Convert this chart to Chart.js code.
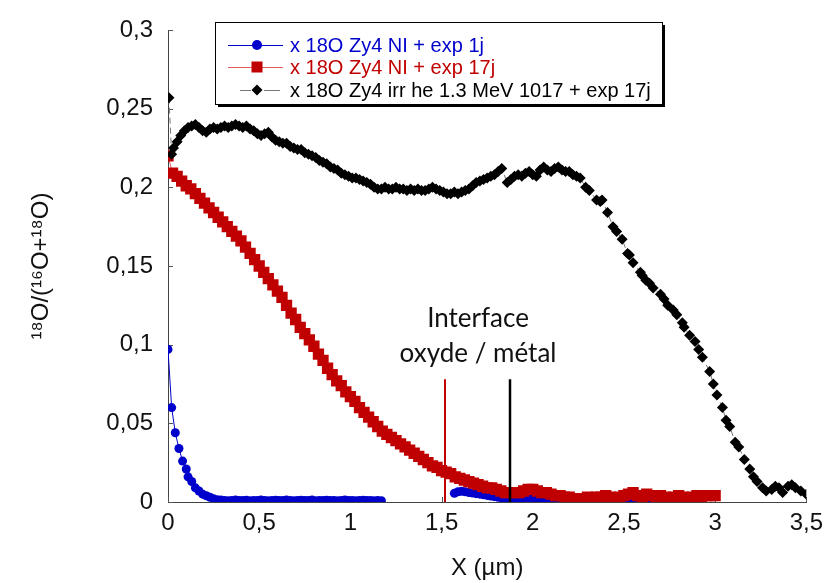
<!DOCTYPE html>
<html>
<head>
<meta charset="utf-8">
<script src="https://cdn.jsdelivr.net/npm/chart.js@4.4.0/dist/chart.umd.min.js"></script>
<style>
html, body { margin: 0; padding: 0; background: #fff; }
</style>
</head>
<body>
<canvas id="oxygen" width="830" height="583"></canvas>
<script>
// x 18O Zy4 NI + exp 1j (blue, gap between 1.17 and 1.57)
var blueX = [0, 0.02, 0.04, 0.06, 0.08, 0.1, 0.11, 0.13, 0.15, 0.17, 0.19, 0.21, 0.23, 0.25, 0.27,
  0.29, 0.31, 0.33, 0.35, 0.37, 0.39, 0.41, 0.43, 0.45, 0.47, 0.49, 0.51, 0.53, 0.55, 0.57,
  0.59, 0.61, 0.63, 0.65, 0.67, 0.69, 0.71, 0.73, 0.75, 0.77, 0.79, 0.81, 0.83, 0.85, 0.87,
  0.89, 0.91, 0.93, 0.95, 0.97, 0.99, 1.01, 1.03, 1.05, 1.07, 1.09, 1.11, 1.13, 1.15, 1.17,
  1.37,
  1.57, 1.59, 1.61, 1.63, 1.65, 1.67, 1.69, 1.71, 1.73, 1.75, 1.77, 1.79, 1.81, 1.83, 1.85,
  1.87, 1.89, 1.91, 1.93, 1.95, 1.97, 1.99, 2.01, 2.03, 2.05, 2.07, 2.09, 2.11, 2.13, 2.15,
  2.17, 2.19, 2.21, 2.23, 2.25, 2.27, 2.29, 2.31, 2.33, 2.35, 2.37, 2.39, 2.41, 2.43, 2.45,
  2.47, 2.49, 2.51, 2.53, 2.55, 2.57, 2.59, 2.61, 2.63, 2.65, 2.67, 2.69, 2.71, 2.73, 2.75,
  2.77, 2.79, 2.81, 2.83, 2.85, 2.87, 2.89];
var blueY = [0.097, 0.060, 0.044, 0.034, 0.026, 0.021, 0.016, 0.013, 0.009, 0.007, 0.005, 0.004, 0.003, 0.002, 0.0015,
  0.0012, 0.001, 0.0008, 0.001, 0.0012, 0.0009, 0.001, 0.0011, 0.0008, 0.0009, 0.001, 0.0012, 0.001, 0.0008, 0.0009,
  0.0011, 0.001, 0.0009, 0.0012, 0.001, 0.0008, 0.001, 0.0011, 0.0009, 0.001, 0.0012, 0.0008, 0.0009, 0.001, 0.0011,
  0.001, 0.0009, 0.0008, 0.001, 0.0012, 0.001, 0.0009, 0.0008, 0.001, 0.0011, 0.0009, 0.001, 0.0008, 0.0009, 0.0008,
  null,
  0.0055, 0.0065, 0.0068, 0.0065, 0.006, 0.0057, 0.0053, 0.005, 0.0046, 0.0042, 0.0038, 0.0034, 0.003, 0.0026, 0.0022,
  0.0018, 0.0015, 0.0012, 0.001, 0.0008, 0.0012, 0.0018, 0.0014, 0.001, 0.0006, 0.0004, 0.0003, 0.0002, 0.0001, 0.0002,
  0, -0.0002, 0.0001, 0, -0.0003, 0.0001, 0, -0.0002, 0.0002, 0, -0.0003, 0.0001, 0, -0.0002, 0.0001,
  0, -0.0003, 0.0001, 0, -0.0002, 0.0002, 0, -0.0003, 0.0001, 0, -0.0002, 0.0001, 0, -0.0003, 0.0001,
  0, -0.0002, 0.0001, 0, -0.0003, 0.0001, 0];

// x 18O Zy4 NI + exp 17j (red)
var redX = [0, 0.025, 0.05, 0.075, 0.1, 0.125, 0.15, 0.175, 0.2, 0.225, 0.25, 0.275, 0.3, 0.325, 0.35,
  0.375, 0.4, 0.425, 0.45, 0.475, 0.5, 0.525, 0.55, 0.575, 0.6, 0.625, 0.65, 0.675, 0.7, 0.725,
  0.75, 0.775, 0.8, 0.825, 0.85, 0.875, 0.9, 0.925, 0.95, 0.975, 1.0, 1.025, 1.05, 1.075, 1.1,
  1.125, 1.15, 1.175, 1.2, 1.225, 1.25, 1.275, 1.3, 1.325, 1.35, 1.375, 1.4, 1.425, 1.45, 1.475,
  1.5, 1.525, 1.55, 1.575, 1.6, 1.625, 1.65, 1.675, 1.7, 1.725, 1.75, 1.775, 1.8, 1.825, 1.85,
  1.875, 1.9, 1.925, 1.95, 1.975, 2.0, 2.025, 2.05, 2.075, 2.1, 2.125, 2.15, 2.175, 2.2, 2.225,
  2.25, 2.275, 2.3, 2.325, 2.35, 2.375, 2.4, 2.425, 2.45, 2.475, 2.5, 2.525, 2.55, 2.575, 2.6,
  2.625, 2.65, 2.675, 2.7, 2.725, 2.75, 2.775, 2.8, 2.825, 2.85, 2.875, 2.9, 2.925, 2.95, 2.975, 3.0];
var redY = [0.220, 0.209, 0.207, 0.204, 0.201, 0.199, 0.196, 0.193, 0.190, 0.187, 0.184, 0.181, 0.178, 0.175, 0.172,
  0.169, 0.166, 0.162, 0.158, 0.154, 0.150, 0.146, 0.142, 0.138, 0.134, 0.130, 0.125, 0.120, 0.116, 0.111,
  0.107, 0.103, 0.099, 0.094, 0.090, 0.085, 0.081, 0.077, 0.074, 0.070, 0.067, 0.064, 0.060, 0.057, 0.054,
  0.051, 0.048, 0.045, 0.043, 0.041, 0.039, 0.037, 0.035, 0.033, 0.031, 0.029, 0.027, 0.025, 0.023, 0.022,
  0.020, 0.019, 0.018, 0.016, 0.015, 0.014, 0.013, 0.012, 0.011, 0.010, 0.009, 0.009, 0.008, 0.007, 0.006,
  0.006, 0.006, 0.006, 0.007, 0.008, 0.008, 0.007, 0.006, 0.006, 0.005, 0.004, 0.004, 0.003, 0.003, 0.002,
  0.002, 0.002, 0.003, 0.002, 0.003, 0.003, 0.004, 0.003, 0.002, 0.003, 0.004, 0.005, 0.006, 0.004, 0.003,
  0.005, 0.004, 0.003, 0.004, 0.003, 0.002, 0.003, 0.004, 0.003, 0.002, 0.003, 0.004, 0.003, 0.004, 0.004, 0.004];

// x 18O Zy4 irr he 1.3 MeV 1017 + exp 17j (black)
var blackX = [0.005, 0.02, 0.03, 0.05, 0.07, 0.09, 0.11, 0.13, 0.15, 0.17, 0.19, 0.21, 0.23, 0.25, 0.27,
  0.29, 0.31, 0.33, 0.35, 0.37, 0.39, 0.41, 0.43, 0.45, 0.47, 0.49, 0.51, 0.53, 0.55, 0.57,
  0.59, 0.61, 0.63, 0.65, 0.67, 0.69, 0.71, 0.73, 0.75, 0.77, 0.79, 0.81, 0.83, 0.85, 0.87,
  0.89, 0.91, 0.93, 0.95, 0.97, 0.99, 1.01, 1.03, 1.05, 1.07, 1.09, 1.11, 1.13, 1.15, 1.17,
  1.19, 1.21, 1.23, 1.25, 1.27, 1.29, 1.31, 1.33, 1.35, 1.37, 1.39, 1.41, 1.43, 1.45, 1.47,
  1.49, 1.51, 1.53, 1.55, 1.57, 1.59, 1.61, 1.63, 1.65, 1.67, 1.69, 1.71, 1.73, 1.75, 1.77,
  1.79, 1.81, 1.83, 1.86, 1.88, 1.90, 1.92, 1.94, 1.96, 1.98, 2.00, 2.02, 2.04, 2.06, 2.08,
  2.10, 2.12, 2.14, 2.16, 2.18, 2.20, 2.22, 2.24, 2.26, 2.29, 2.31, 2.35, 2.37, 2.38, 2.41,
  2.44, 2.46, 2.49, 2.52, 2.53, 2.55, 2.59, 2.60, 2.62, 2.64, 2.66, 2.70, 2.72, 2.74, 2.77,
  2.79, 2.82, 2.83, 2.86, 2.89, 2.91, 2.93, 2.97, 2.99, 3.01, 3.04, 3.06, 3.08, 3.11, 3.13,
  3.16, 3.19, 3.21, 3.23, 3.26, 3.28, 3.31, 3.33, 3.35, 3.37, 3.40, 3.42, 3.44, 3.47, 3.50];
var blackY = [0.257, 0.221, 0.225, 0.229, 0.233, 0.236, 0.238, 0.239, 0.240, 0.238, 0.236, 0.235, 0.237, 0.238, 0.237,
  0.238, 0.239, 0.238, 0.239, 0.240, 0.239, 0.238, 0.239, 0.237, 0.236, 0.234, 0.233, 0.234, 0.235, 0.232,
  0.230, 0.229, 0.228, 0.228, 0.226, 0.225, 0.224, 0.224, 0.222, 0.221, 0.220, 0.219, 0.217, 0.216, 0.215,
  0.213, 0.212, 0.211, 0.209, 0.208, 0.207, 0.206, 0.206, 0.205, 0.204, 0.203, 0.202, 0.200, 0.199, 0.199,
  0.200, 0.199, 0.199, 0.200, 0.199, 0.199, 0.198, 0.199, 0.198, 0.199, 0.198, 0.198, 0.199, 0.200, 0.199,
  0.198, 0.197, 0.196, 0.196, 0.197, 0.196, 0.197, 0.198, 0.199, 0.201, 0.203, 0.204, 0.205, 0.206, 0.207,
  0.208, 0.210, 0.212, 0.203, 0.205, 0.207, 0.208, 0.207, 0.209, 0.210, 0.208, 0.207, 0.211, 0.213, 0.211,
  0.210, 0.212, 0.213, 0.211, 0.210, 0.210, 0.208, 0.207, 0.206, 0.200, 0.198, 0.192, 0.191, 0.192, 0.184,
  0.175, 0.172, 0.167, 0.158, 0.157, 0.152, 0.146, 0.144, 0.141, 0.139, 0.136, 0.132, 0.129, 0.125, 0.122,
  0.119, 0.114, 0.111, 0.106, 0.102, 0.097, 0.092, 0.083, 0.075, 0.068, 0.060, 0.052, 0.048, 0.038, 0.035,
  0.027, 0.021, 0.016, 0.013, 0.009, 0.007, 0.008, 0.010, 0.009, 0.006, 0.010, 0.011, 0.009, 0.007, 0.005];

var seriesNames = ['x 18O Zy4 NI + exp 1j', 'x 18O Zy4 NI + exp 17j', 'x 18O Zy4 irr he 1.3 MeV 1017 + exp 17j'];
var seriesColors = ['#0000CC', '#C00000', '#000000'];

// oxide / metal interface positions (µm), red = NI 17j, black = irradiated
var interfaceX = [1.52, 1.875];
var interfaceTop = 0.078;

function toPoints(xs, ys) {
  var pts = [];
  for (var i = 0; i < xs.length; i++) pts.push({ x: xs[i], y: ys[i] });
  return pts;
}

function frNum(v) {
  return (Math.round(v * 100) / 100).toString().replace('.', ',');
}

var FONT = '"Liberation Sans", Arial, sans-serif';

var innerTicks = {
  id: 'innerTicks',
  beforeDatasetsDraw: function (chart) {
    var ctx = chart.ctx, xs = chart.scales.x, ys = chart.scales.y, a = chart.chartArea;
    ctx.save();
    ctx.strokeStyle = '#555';
    ctx.lineWidth = 1;
    xs.ticks.forEach(function (t) {
      var px = Math.round(xs.getPixelForValue(t.value)) + 0.5;
      ctx.beginPath(); ctx.moveTo(px, a.bottom); ctx.lineTo(px, a.bottom - 5); ctx.stroke();
    });
    ys.ticks.forEach(function (t) {
      var py = Math.round(ys.getPixelForValue(t.value)) + 0.5;
      ctx.beginPath(); ctx.moveTo(a.left, py); ctx.lineTo(a.left + 5, py); ctx.stroke();
    });
    ctx.restore();
  }
};

var interfaceMarks = {
  id: 'interfaceMarks',
  afterDatasetsDraw: function (chart) {
    var ctx = chart.ctx, xs = chart.scales.x, ys = chart.scales.y;
    var y0 = ys.getPixelForValue(0), y1 = ys.getPixelForValue(interfaceTop);
    ctx.save();
    ctx.strokeStyle = '#C00000'; ctx.lineWidth = 2;
    var rx = Math.round(xs.getPixelForValue(interfaceX[0]));
    ctx.beginPath(); ctx.moveTo(rx, y1); ctx.lineTo(rx, y0); ctx.stroke();
    ctx.strokeStyle = '#000'; ctx.lineWidth = 2.5;
    var bx = Math.round(xs.getPixelForValue(interfaceX[1]));
    ctx.beginPath(); ctx.moveTo(bx, y1); ctx.lineTo(bx, y0); ctx.stroke();
    ctx.fillStyle = '#111';
    ctx.font = '26px Lato, "Open Sans", sans-serif';
    ctx.textAlign = 'center';
    ctx.textBaseline = 'alphabetic';
    var cx = xs.getPixelForValue(1.7);
    ctx.fillText('Interface', cx, ys.getPixelForValue(0.111));
    ctx.fillText('oxyde / métal', cx, ys.getPixelForValue(0.089));
    ctx.restore();
  }
};

var boxLegend = {
  id: 'boxLegend',
  afterDraw: function (chart) {
    var ctx = chart.ctx;
    var L = 215, T = 22, R = 662, B = 104;
    ctx.save();
    ctx.fillStyle = '#000';
    ctx.fillRect(L + 3, T + 3, R - L, B - T);
    ctx.fillStyle = '#fff';
    ctx.fillRect(L, T, R - L, B - T);
    ctx.strokeStyle = '#000'; ctx.lineWidth = 1;
    ctx.strokeRect(L + 0.5, T + 0.5, R - L, B - T);
    var rows = [45, 67, 90];
    var mx = 257;
    ctx.font = '20px ' + FONT;
    ctx.textBaseline = 'middle';
    ctx.textAlign = 'left';
    for (var i = 0; i < 3; i++) {
      var y = rows[i];
      ctx.lineWidth = 1;
      if (i < 2) {
        ctx.strokeStyle = i === 0 ? '#0000CC' : '#E06060';
        ctx.beginPath(); ctx.moveTo(228, y + 0.5); ctx.lineTo(283, y + 0.5); ctx.stroke();
      } else {
        ctx.strokeStyle = '#777';
        ctx.beginPath(); ctx.moveTo(240, y + 0.5); ctx.lineTo(251, y + 0.5);
        ctx.moveTo(264, y + 0.5); ctx.lineTo(280, y + 0.5); ctx.stroke();
      }
      ctx.fillStyle = seriesColors[i];
      ctx.beginPath();
      if (i === 0) {
        ctx.arc(mx, y, 5, 0, Math.PI * 2);
      } else if (i === 1) {
        ctx.rect(mx - 5.5, y - 5.5, 11, 11);
      } else {
        ctx.moveTo(mx, y - 5.5); ctx.lineTo(mx + 5.5, y); ctx.lineTo(mx, y + 5.5); ctx.lineTo(mx - 5.5, y); ctx.closePath();
      }
      ctx.fill();
      ctx.fillText(seriesNames[i], 290, y + 1);
    }
    ctx.restore();
  }
};

new Chart('oxygen', {
  type: 'scatter',
  data: {
    datasets: [{
      label: seriesNames[2],
      data: toPoints(blackX, blackY),
      showLine: true,
      borderColor: '#777',
      borderWidth: 1,
      borderDash: [6, 4],
      backgroundColor: '#000',
      pointBorderColor: '#000',
      pointStyle: 'rectRot',
      pointRadius: 5.5,
      pointBorderWidth: 0,
      order: 0
    }, {
      label: seriesNames[1],
      data: toPoints(redX, redY),
      showLine: true,
      borderColor: '#E06060',
      borderWidth: 1,
      backgroundColor: '#C00000',
      pointBorderColor: '#C00000',
      pointStyle: 'rect',
      pointRadius: 8,
      pointBorderWidth: 0,
      order: 1
    }, {
      label: seriesNames[0],
      data: toPoints(blueX, blueY),
      showLine: true,
      borderColor: '#0000CC',
      borderWidth: 1,
      backgroundColor: '#0000CC',
      pointBorderColor: '#0000CC',
      pointStyle: 'circle',
      pointRadius: 4.5,
      pointBorderWidth: 0,
      order: 2
    }]
  },
  options: {
    responsive: false,
    animation: false,
    layout: { padding: { top: 30, right: 22, left: 0, bottom: 0 } },
    plugins: {
      legend: { display: false },
      tooltip: { enabled: false }
    },
    scales: {
      x: {
        type: 'linear',
        min: 0, max: 3.5,
        grid: { display: false, drawTicks: false },
        border: { color: '#444', width: 1 },
        ticks: { stepSize: 0.5, padding: 7, color: '#111', font: { family: FONT, size: 24 }, callback: frNum },
        title: { display: true, text: 'X (µm)', color: '#111', font: { family: FONT, size: 24 }, padding: { top: 0, bottom: 0 } },
        afterFit: function (s) { s.height = 81; }
      },
      y: {
        type: 'linear',
        min: 0, max: 0.3,
        grid: { display: false, drawTicks: false },
        border: { color: '#444', width: 1 },
        ticks: { stepSize: 0.05, padding: 15, color: '#111', font: { family: FONT, size: 24 }, callback: frNum },
        title: { display: true, text: '¹⁸O/(¹⁶O+¹⁸O)', color: '#111', font: { family: FONT, size: 24 }, padding: { top: 27, bottom: 0 } },
        afterFit: function (s) { s.width = 168; }
      }
    }
  },
  plugins: [innerTicks, interfaceMarks, boxLegend]
});
</script>
</body>
</html>
